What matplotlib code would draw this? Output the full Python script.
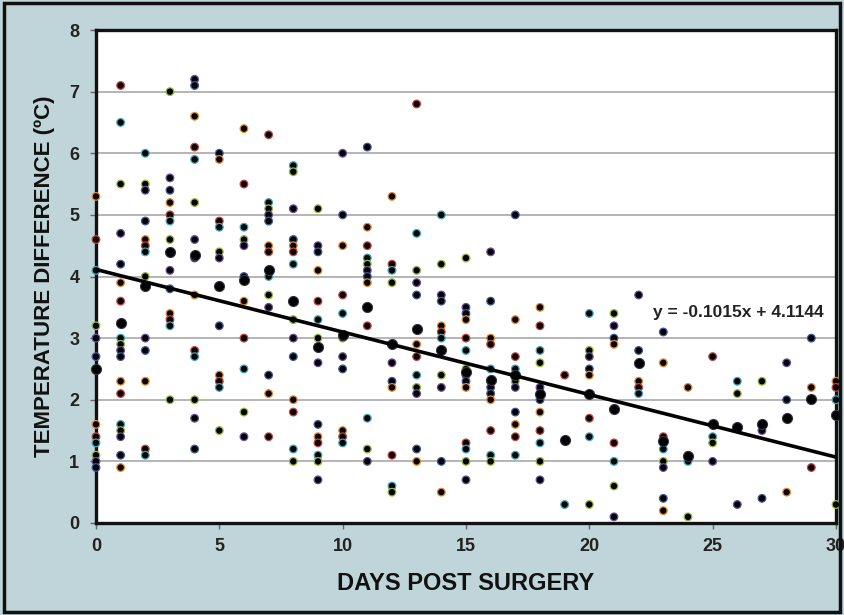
import numpy as np
import matplotlib
matplotlib.use('Agg')
import matplotlib.pyplot as plt
from matplotlib.patches import Rectangle

plt.rcParams['font.family'] = ['Liberation Sans', 'DejaVu Sans']

# temperature differences per day (small dots)
temp_by_day = [
    [5.3, 4.6, 4.1, 3.2, 3.0, 2.7, 1.6, 1.4, 1.3, 1.1, 1.0, 0.9],
    [7.1, 6.5, 5.5, 4.7, 4.2, 3.9, 3.6, 3.0, 2.9, 2.8, 2.7, 2.3, 2.1, 1.6, 1.5, 1.4, 1.1, 0.9],
    [6.0, 5.5, 5.4, 4.9, 4.6, 4.5, 4.4, 4.0, 3.0, 2.8, 2.3, 1.2, 1.1],
    [7.0, 5.6, 5.4, 5.2, 5.0, 4.9, 4.6, 4.1, 3.8, 3.4, 3.3, 3.2, 2.0],
    [7.2, 7.1, 6.6, 6.1, 5.9, 5.2, 4.6, 4.3, 3.7, 2.8, 2.7, 2.0, 1.7, 1.2],
    [6.0, 5.9, 4.9, 4.8, 4.4, 4.3, 3.2, 2.4, 2.3, 2.2, 1.5],
    [6.4, 5.5, 4.8, 4.6, 4.5, 4.0, 3.6, 3.0, 2.5, 1.8, 1.4],
    [6.3, 5.2, 5.1, 5.0, 4.9, 4.5, 4.4, 4.0, 3.7, 3.5, 2.4, 2.1, 1.4],
    [5.8, 5.7, 5.1, 4.6, 4.5, 4.4, 4.2, 3.3, 3.0, 2.7, 2.0, 1.8, 1.2, 1.0],
    [5.1, 4.5, 4.4, 4.1, 3.6, 3.3, 3.0, 2.6, 1.6, 1.4, 1.3, 1.1, 1.0, 0.7],
    [6.0, 5.0, 4.5, 3.7, 3.4, 3.0, 2.7, 2.5, 1.5, 1.4, 1.3],
    [6.1, 4.8, 4.5, 4.3, 4.2, 4.1, 4.0, 3.9, 3.2, 1.7, 1.2, 1.0],
    [5.3, 4.2, 4.1, 3.9, 2.6, 2.3, 2.2, 1.1, 0.6, 0.5],
    [6.8, 4.7, 4.1, 3.9, 3.7, 2.9, 2.7, 2.4, 2.2, 2.1, 1.2, 1.0],
    [5.0, 4.2, 3.7, 3.6, 3.2, 3.1, 3.0, 2.4, 2.2, 1.0, 0.5],
    [4.3, 3.5, 3.4, 3.3, 3.0, 2.8, 2.5, 2.4, 2.3, 2.2, 1.3, 1.2, 1.0, 0.7],
    [4.4, 3.6, 3.0, 2.9, 2.5, 2.3, 2.2, 2.1, 2.0, 1.5, 1.1, 1.0],
    [5.0, 3.3, 2.7, 2.5, 2.3, 2.2, 1.8, 1.6, 1.4, 1.1],
    [3.5, 3.2, 2.8, 2.6, 2.2, 2.0, 1.8, 1.5, 1.3, 1.0, 0.7],
    [2.4, 0.3],
    [3.4, 2.8, 2.7, 2.5, 2.4, 1.7, 1.4, 0.3],
    [3.4, 3.2, 3.0, 2.9, 1.3, 1.0, 0.6, 0.1],
    [3.7, 2.8, 2.3, 2.2, 2.1],
    [3.1, 2.6, 1.4, 1.2, 1.0, 0.9, 0.4, 0.2],
    [2.2, 1.1, 1.0, 0.1],
    [2.7, 1.4, 1.3, 1.0],
    [2.3, 2.1, 0.3],
    [2.3, 1.5, 0.4],
    [2.6, 2.0, 0.5],
    [3.0, 2.2, 0.9],
    [2.3, 2.2, 2.0, 0.3],
]

# daily means (large dots)
day_means = [2.5, 3.25, 3.85, 4.4, 4.35, 3.85, 3.95, 4.1, 3.6, 2.85, 3.05,
             3.5, 2.9, 3.15, 2.8, 2.45, 2.32, 2.4, 2.1, 1.35, 2.1, 1.85,
             2.6, 1.33, 1.08, 1.6, 1.55, 1.61, 1.7, 2.01, 1.75]

slope = -0.1015
intercept = 4.1144

bg = '#c0d5d9'
edge_palette = ['#e8892b', '#c8413a', '#3aa6b8', '#98b83a', '#6a4c9c', '#3a5a9a']

fig = plt.figure(figsize=(8.44, 6.15), dpi=100, facecolor=bg)
fig.patches.append(Rectangle((0.005, 0.005), 0.99, 0.99, transform=fig.transFigure,
                             facecolor='none', edgecolor='#111111', linewidth=2.5))
ax = fig.add_axes([0.1137, 0.1496, 0.8768, 0.8016])
ax.set_facecolor('white')

days = np.arange(len(temp_by_day))
for d in days:
    vals = temp_by_day[d]
    cols = [edge_palette[(d + i) % len(edge_palette)] for i in range(len(vals))]
    ax.scatter([d] * len(vals), vals, s=30, c='black', edgecolors=cols,
               linewidths=0.9, zorder=3, clip_on=False)

ax.scatter(days, day_means, s=52, c='black', edgecolors='#333344',
           linewidths=0.8, zorder=4, clip_on=False)

xx = np.array([0, 30])
ax.plot(xx, slope * xx + intercept, color='black', linewidth=2.6, zorder=5)
ax.text(22.6, 3.42, 'y = -0.1015x + 4.1144', fontsize=12.5, fontweight='bold',
        ha='left', va='center', color='#222222')

ax.set_xlim(0, 30)
ax.set_ylim(0, 8)
ax.set_xticks(range(0, 31, 5))
ax.set_yticks(range(0, 9))
ax.yaxis.grid(True, color='#b4b4b4', linewidth=1.4)
ax.set_axisbelow(True)
for sp in ax.spines.values():
    sp.set_linewidth(2.4)
    sp.set_color('#111111')
ax.tick_params(axis='both', direction='out', length=4, width=1, color='#666666',
               labelsize=13)
ax.tick_params(axis='y', pad=8)
ax.tick_params(axis='x', pad=7)
for lab in ax.get_xticklabels() + ax.get_yticklabels():
    lab.set_fontweight('bold')
    lab.set_color('#222222')

ax.set_xlabel('DAYS POST SURGERY', fontsize=17, fontweight='bold', labelpad=12,
              color='#111111')
ax.set_ylabel('TEMPERATURE DIFFERENCE (ºC)', fontsize=16, fontweight='bold',
              labelpad=10, color='#111111')

fig.savefig('out.png', dpi=100, facecolor=bg)
